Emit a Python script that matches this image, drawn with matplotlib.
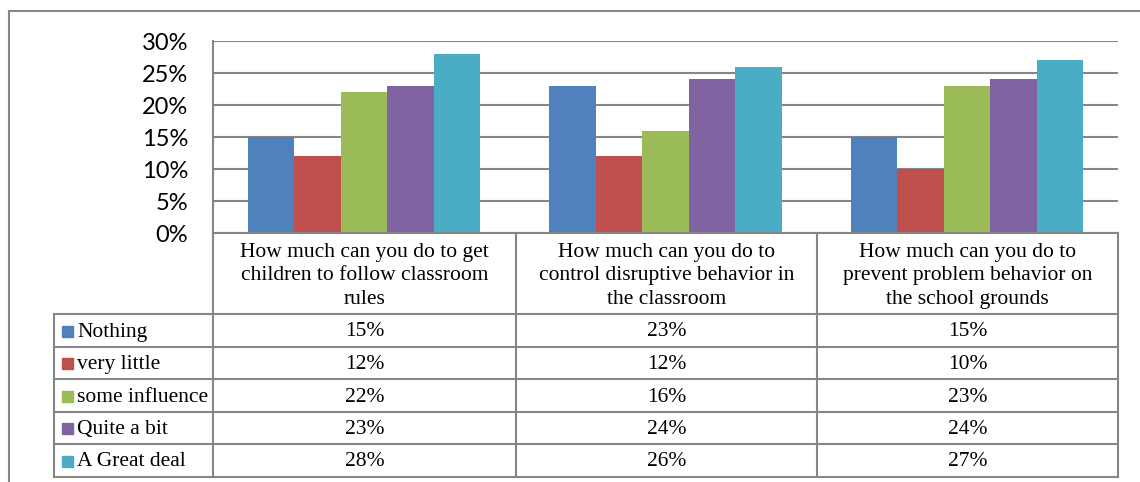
import matplotlib
matplotlib.use('Agg')
import matplotlib.pyplot as plt
from matplotlib.lines import Line2D
from matplotlib.patches import Rectangle
import numpy as np

questions = ['How much can you do to get\nchildren to follow classroom\nrules',
             'How much can you do to\ncontrol disruptive behavior in\nthe classroom',
             'How much can you do to\nprevent problem behavior on\nthe school grounds']
series = ['Nothing', 'very little', 'some influence', 'Quite a bit', 'A Great deal']
nothing = [15, 23, 15]
very_little = [12, 12, 10]
some_influence = [22, 16, 23]
quite_a_bit = [23, 24, 24]
great_deal = [28, 26, 27]
colors = ['#4F81BD', '#C0504D', '#9BBB59', '#8064A2', '#4BACC6']

values = [nothing, very_little, some_influence, quite_a_bit, great_deal]

W, H = 1140, 482
fig = plt.figure(figsize=(W / 100, H / 100), dpi=100)
grid = '#868686'

def fx(px):
    return px / W

def fy(py):
    return 1 - py / H

# plot area in pixels
left, right, top, bottom = 213, 1118, 41, 233
ax = fig.add_axes([fx(left), fy(bottom), fx(right) - fx(left), fy(top) - fy(bottom)])
x = np.arange(len(questions))
bw = 0.154
for i, (name, vals) in enumerate(zip(series, values)):
    ax.bar(x + (i - 2) * bw, vals, bw, color=colors[i], edgecolor='none', zorder=3)
ax.set_xlim(-0.5, 2.5)
ax.set_ylim(0, 30)
ax.set_yticks(range(0, 31, 5))
ax.set_yticklabels([f'{v}%' for v in range(0, 31, 5)], fontfamily='Lato', fontsize=17)
ax.tick_params(axis='y', length=0, pad=18)
ax.set_xticks([])
ax.grid(axis='y', color=grid, linewidth=1.5, zorder=0)
for s in ['top', 'right', 'bottom']:
    ax.spines[s].set_visible(False)
ax.spines['left'].set_color(grid)
ax.spines['left'].set_linewidth(1.5)

# table
col_x = [54, 213, 516, 817, 1118]
row_y = [233, 314, 347, 379, 412, 444, 477]
lw = 1.5

def hline(py, x0, x1):
    fig.add_artist(Line2D([fx(x0), fx(x1)], [fy(py), fy(py)], color=grid, lw=lw))

def vline(px, y0, y1):
    fig.add_artist(Line2D([fx(px), fx(px)], [fy(y0), fy(y1)], color=grid, lw=lw))

hline(row_y[0], col_x[1], col_x[-1])
for py in row_y[1:]:
    hline(py, col_x[0], col_x[-1])
vline(col_x[0], row_y[1], row_y[-1])
for px in col_x[1:]:
    vline(px, row_y[0], row_y[-1])

serif = 'Liberation Serif'
fs = 15.5
for j, q in enumerate(questions):
    cx = (col_x[j + 1] + col_x[j + 2]) / 2
    fig.text(fx(cx), fy(304), q, ha='center', va='baseline',
             fontfamily=serif, fontsize=fs, linespacing=1.33)

for i, name in enumerate(series):
    base = (row_y[i + 1] + row_y[i + 2]) / 2 + 6
    fig.add_artist(Rectangle((fx(62), fy(base)), fx(11), 11 / H, color=colors[i]))
    fig.text(fx(77), fy(base), name, ha='left', va='baseline', fontfamily=serif, fontsize=fs)
    for j in range(len(questions)):
        cx = (col_x[j + 1] + col_x[j + 2]) / 2
        fig.text(fx(cx), fy(base), f'{values[i][j]}%', ha='center', va='baseline',
                 fontfamily=serif, fontsize=fs)

# outer border
fig.add_artist(Line2D([fx(9), fx(9)], [fy(11), 0], color=grid, lw=1.5))
fig.add_artist(Line2D([fx(9), 1], [fy(11), fy(11)], color=grid, lw=1.5))

fig.savefig('out.png', dpi=100)
